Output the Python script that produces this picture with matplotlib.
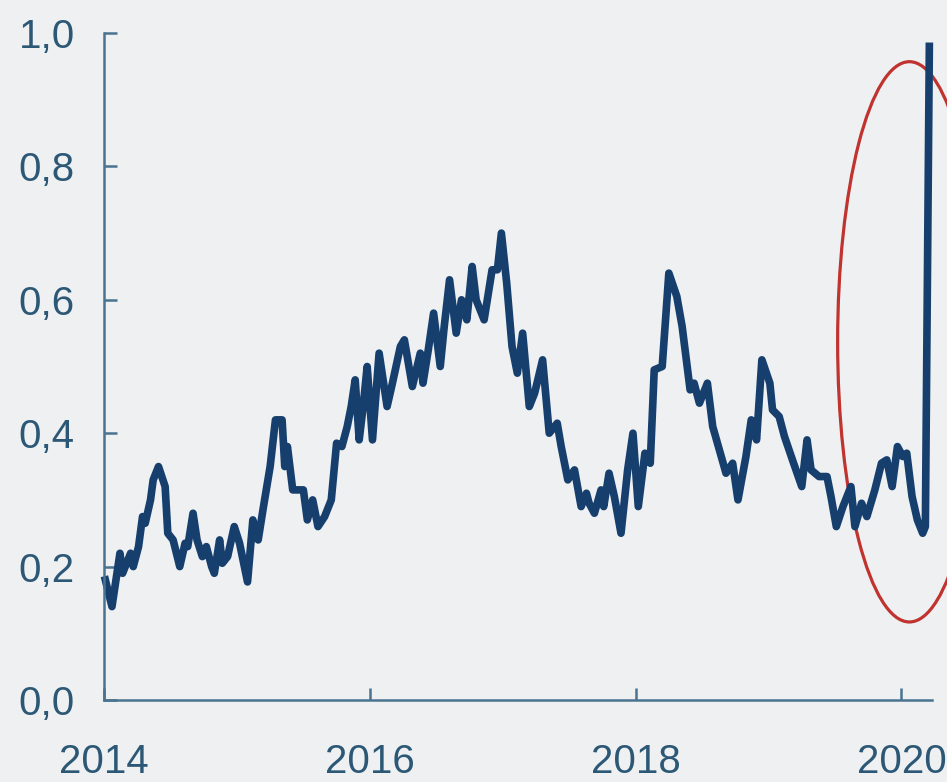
import matplotlib.pyplot as plt
from matplotlib.patches import Ellipse
from matplotlib.ticker import FuncFormatter

# decimal years and index values
years = [2014.01, 2014.06, 2014.12, 2014.14, 2014.20, 2014.22, 2014.26, 2014.29, 2014.31, 2014.35,
         2014.37, 2014.41, 2014.46, 2014.48, 2014.52, 2014.57, 2014.61, 2014.63, 2014.67, 2014.70,
         2014.74, 2014.77, 2014.81, 2014.83, 2014.87, 2014.89, 2014.93, 2014.98, 2015.02, 2015.08,
         2015.12, 2015.16, 2015.20, 2015.25, 2015.29, 2015.34, 2015.36, 2015.38, 2015.42, 2015.50,
         2015.53, 2015.57, 2015.61, 2015.66, 2015.71, 2015.75, 2015.79, 2015.83, 2015.86, 2015.89,
         2015.92, 2015.95, 2015.98, 2016.02, 2016.07, 2016.13, 2016.17, 2016.23, 2016.26, 2016.32,
         2016.38, 2016.40, 2016.44, 2016.48, 2016.53, 2016.56, 2016.60, 2016.65, 2016.69, 2016.73,
         2016.77, 2016.80, 2016.86, 2016.92, 2016.96, 2016.99, 2017.03, 2017.07, 2017.11, 2017.15,
         2017.20, 2017.24, 2017.30, 2017.35, 2017.41, 2017.44, 2017.49, 2017.54, 2017.59, 2017.63,
         2017.65, 2017.69, 2017.74, 2017.76, 2017.80, 2017.84, 2017.89, 2017.94, 2017.98, 2018.02,
         2018.07, 2018.11, 2018.14, 2018.20, 2018.25, 2018.31, 2018.35, 2018.41, 2018.44, 2018.48,
         2018.54, 2018.58, 2018.63, 2018.68, 2018.73, 2018.77, 2018.83, 2018.87, 2018.91, 2018.95,
         2019.01, 2019.03, 2019.08, 2019.12, 2019.18, 2019.25, 2019.29, 2019.32, 2019.38, 2019.44,
         2019.47, 2019.51, 2019.56, 2019.62, 2019.65, 2019.70, 2019.74, 2019.80, 2019.85, 2019.89,
         2019.93, 2019.97, 2020.01, 2020.04, 2020.08, 2020.12, 2020.16, 2020.18, 2020.21]
values = [0.18, 0.14, 0.22, 0.19, 0.22, 0.20, 0.23, 0.275, 0.265, 0.30,
          0.33, 0.35, 0.32, 0.25, 0.24, 0.20, 0.235, 0.23, 0.28, 0.24,
          0.215, 0.23, 0.20, 0.19, 0.24, 0.205, 0.215, 0.26, 0.235, 0.177,
          0.27, 0.24, 0.29, 0.35, 0.42, 0.42, 0.35, 0.38, 0.315, 0.315,
          0.27, 0.30, 0.26, 0.275, 0.30, 0.385, 0.38, 0.41, 0.44, 0.48,
          0.39, 0.44, 0.50, 0.39, 0.52, 0.44, 0.475, 0.53, 0.54, 0.47,
          0.52, 0.475, 0.525, 0.58, 0.50, 0.56, 0.63, 0.55, 0.60, 0.57,
          0.65, 0.60, 0.57, 0.645, 0.645, 0.70, 0.625, 0.53, 0.49, 0.55,
          0.44, 0.46, 0.51, 0.40, 0.415, 0.38, 0.33, 0.345, 0.29, 0.31,
          0.295, 0.28, 0.315, 0.29, 0.34, 0.305, 0.25, 0.345, 0.40, 0.29,
          0.37, 0.355, 0.495, 0.50, 0.64, 0.605, 0.56, 0.465, 0.475, 0.445,
          0.475, 0.41, 0.375, 0.34, 0.355, 0.30, 0.365, 0.42, 0.39, 0.51,
          0.475, 0.435, 0.425, 0.395, 0.36, 0.32, 0.39, 0.345, 0.335, 0.335,
          0.305, 0.26, 0.29, 0.32, 0.26, 0.295, 0.275, 0.315, 0.355, 0.36,
          0.32, 0.38, 0.365, 0.37, 0.305, 0.27, 0.25, 0.26, 0.98]

x_ticks = [2014, 2016, 2018, 2020]
y_ticks = [0.0, 0.2, 0.4, 0.6, 0.8, 1.0]

bg = '#eef0f2'
axis_col = '#4a7390'
text_col = '#2c5876'

plt.rcParams['font.family'] = ['Liberation Sans', 'DejaVu Sans']

fig = plt.figure(figsize=(9.47, 7.82), dpi=100, facecolor=bg)
ax = fig.add_axes([104 / 947, 82 / 782, 828 / 947, 667 / 782])
ax.set_facecolor(bg)

ax.plot(years, values, color='#173f6d', lw=5.5, solid_joinstyle='round', clip_on=False)

# highlight of the latest spike
ax.add_patch(Ellipse((2020.06, 0.537), 1.08, 0.84, fill=False, edgecolor='#c0332e',
                     lw=2.3, clip_on=False))

ax.set_xlim(2014, 2020.23)
ax.set_ylim(0, 1.0)
ax.set_xticks(x_ticks)
ax.set_yticks(y_ticks)
ax.yaxis.set_major_formatter(FuncFormatter(lambda v, p: f'{v:.1f}'.replace('.', ',')))

for side in ['top', 'right']:
    ax.spines[side].set_visible(False)
for side in ['left', 'bottom']:
    ax.spines[side].set_color(axis_col)
    ax.spines[side].set_linewidth(1.8)

ax.tick_params(axis='both', direction='in', length=9, width=1.8, color=axis_col,
               labelcolor=text_col, labelsize=29)
ax.tick_params(axis='y', pad=21)
ax.tick_params(axis='x', pad=31)

fig.savefig('out.png', dpi=100, facecolor=bg)
